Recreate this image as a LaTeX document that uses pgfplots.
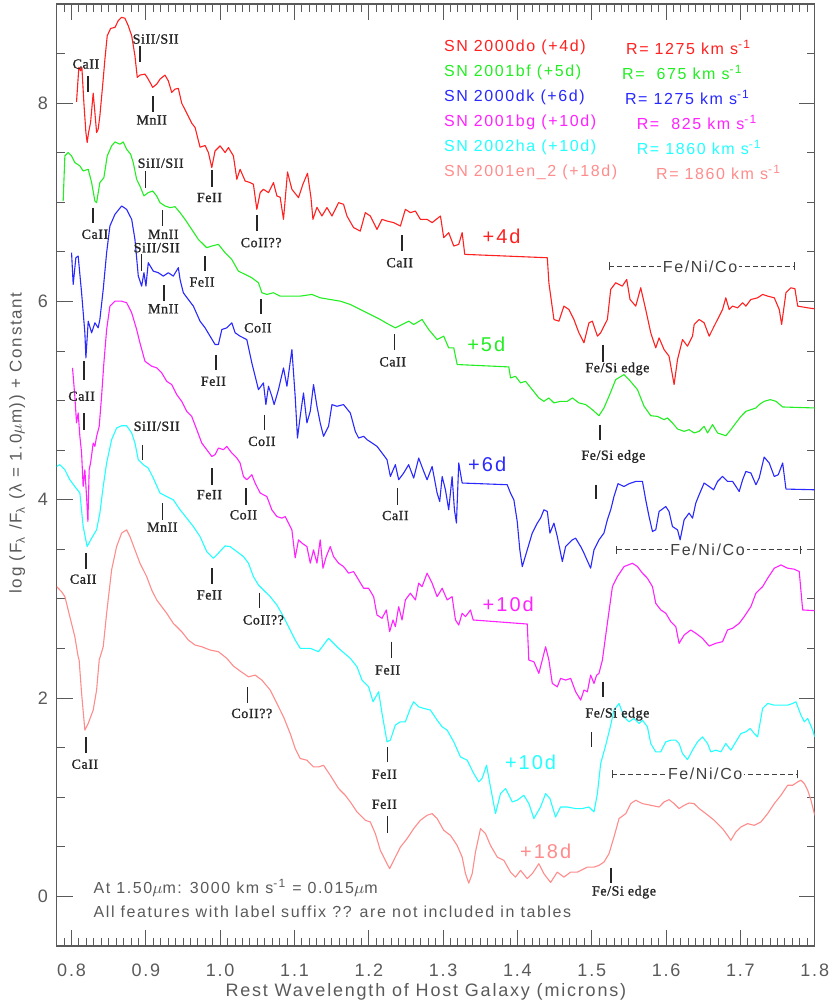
\documentclass[border=0pt]{standalone}
\usepackage{fontspec}
\setmainfont{Liberation Sans}[LetterSpace=10]
\newfontfamily\lblfamily{Liberation Serif}[LetterSpace=4,FakeBold=1.2]
\usepackage{pgfplots}
\pgfplotsset{compat=1.18}
\definecolor{axgray}{HTML}{5A5A5A}
\definecolor{cred}{HTML}{FF2020}
\definecolor{cgreen}{HTML}{22EE22}
\definecolor{cblue}{HTML}{2828FF}
\definecolor{cmag}{HTML}{FF22FF}
\definecolor{ccyan}{HTML}{22FFFF}
\definecolor{csalmon}{HTML}{FF8C8C}
\tikzset{
  spec/.style ={line width=0.55pt,line join=round},
  ftick/.style={line width=0.8pt,black!85},
  flbl/.style ={font=\lblfamily\fontsize{7}{8}\selectfont,text=black!85,inner sep=0pt},
  epoch/.style={font=\fontsize{10}{12}\selectfont,inner sep=0pt},
  leg/.style  ={font=\fontsize{8}{10}\selectfont,anchor=west,inner sep=0pt},
}
% feature mark: x, y top, y bottom
\newcommand{\fmark}[3]{\draw[ftick] (axis cs:#1,#2) -- (axis cs:#1,#3);}
% Fe/Ni/Co bracket: y, x1, x2, xcentre
\newcommand{\fenico}[4]{%
  \draw[black!75,line width=0.5pt,dash pattern=on 2.5pt off 1.5pt] (axis cs:#2,#1) -- (axis cs:#3,#1);
  \draw[black!75,line width=0.5pt] ([yshift=-2pt]axis cs:#2,#1) -- ([yshift=2pt]axis cs:#2,#1);
  \draw[black!75,line width=0.5pt] ([yshift=-2pt]axis cs:#3,#1) -- ([yshift=2pt]axis cs:#3,#1);
  \node[fill=white,inner sep=1pt,font=\fontsize{8}{10}\selectfont,text=black!75] at (axis cs:#4,#1) {Fe/Ni/Co};}

\begin{document}
\begin{tikzpicture}
\path[use as bounding box] (-28.35pt,-30.5pt) rectangle (386.65pt,473pt);
\begin{axis}[
  at={(0,0)}, anchor=south west,
  width=379pt, height=471pt, scale only axis,
  xmin=0.78, xmax=1.8, ymin=-0.5, ymax=9,
  clip mode=individual,
  xtick={0.8,0.9,1.0,1.1,1.2,1.3,1.4,1.5,1.6,1.7,1.8},
  xticklabels={0.8,0.9,1.0,1.1,1.2,1.3,1.4,1.5,1.6,1.7,1.8},
  minor xtick={0.78,0.79,...,1.801},
  ytick={0,2,4,6,8}, yticklabels={0,2,4,6,8},
  minor ytick={-0.5,0,...,9},
  major tick length=8pt, minor tick length=4pt,
  tick align=inside,
  axis line style={axgray,line width=0.6pt},
  tick style={axgray,line width=0.5pt},
  ticklabel style={font=\fontsize{9}{10}\selectfont,text=axgray},
  xticklabel style={anchor=center,yshift=-12pt},
  yticklabel style={anchor=center,xshift=-6.9pt},
  every axis x label/.style={at={(axis description cs:0.487,0)},anchor=center,yshift=-23pt,
    font=\fontsize{9}{10}\selectfont,text=axgray},
  every axis y label/.style={at={(axis description cs:-0.052,0.534)},anchor=center,rotate=90,
    font=\fontsize{8.5}{10}\selectfont,text=axgray},
  xlabel={Rest Wavelength of Host Galaxy (microns)},
  ylabel={log (F\textsubscript{λ} /F\textsubscript{λ} (λ = 1.0$\mu$m)) + Constant},
]
% SN 2000do (+4d)
\addplot[spec,cred] coordinates {
(0.8067,8.013)(0.8098,8.361)(0.8121,8.326)(0.8139,8.361)(0.8166,8.000)(0.8193,7.704)(0.8210,7.603)(0.8229,7.704)
(0.8256,7.805)(0.8291,8.101)(0.8314,7.906)(0.8337,7.704)(0.8358,7.737)(0.8381,7.872)(0.8418,8.175)(0.8449,8.444)
(0.8480,8.680)(0.8526,8.754)(0.8584,8.764)(0.8628,8.831)(0.8674,8.866)(0.8718,8.856)(0.8763,8.781)(0.8809,8.680)
(0.8853,8.478)(0.8884,8.260)(0.8920,8.283)(0.8988,8.293)(0.9032,8.242)(0.9092,8.159)(0.9146,8.192)(0.9190,8.242)
(0.9257,8.283)(0.9302,8.225)(0.9348,8.108)(0.9392,8.141)(0.9437,8.149)(0.9482,8.000)(0.9550,7.899)(0.9617,7.798)
(0.9662,7.755)(0.9729,7.556)(0.9797,7.573)(0.9841,7.502)(0.9887,7.351)(0.9931,7.518)(0.9999,7.569)(1.0066,7.502)
(1.0111,7.552)(1.0178,7.468)(1.0224,7.232)(1.0268,7.333)(1.0336,7.215)(1.0403,7.199)(1.0447,7.182)(1.0493,6.929)
(1.0538,7.098)(1.0582,7.131)(1.0650,7.098)(1.0717,7.199)(1.0763,7.064)(1.0807,7.051)(1.0852,6.828)(1.0906,7.306)
(1.0965,7.131)(1.1054,7.047)(1.1113,7.182)(1.1175,7.293)(1.1221,7.051)(1.1248,6.828)(1.1302,6.949)(1.1369,6.862)
(1.1437,6.947)(1.1504,6.862)(1.1593,6.997)(1.1660,6.980)(1.1706,6.862)(1.1795,6.745)(1.1885,6.710)(1.1953,6.896)
(1.2020,6.862)(1.2110,6.727)(1.2178,6.828)(1.2245,6.811)(1.2334,6.795)(1.2425,6.761)(1.2492,6.929)(1.2559,6.896)
(1.2627,6.912)(1.2694,6.828)(1.2784,6.828)(1.2852,6.795)(1.2964,6.862)(1.3008,6.643)(1.3075,6.694)(1.3143,6.559)
(1.3210,6.576)(1.3256,6.694)(1.3291,6.475)(1.4402,6.441)(1.4423,6.189)(1.4491,5.818)(1.4558,5.801)(1.4625,5.953)
(1.4693,5.919)(1.4760,5.818)(1.4827,5.684)(1.4895,5.583)(1.4962,5.785)(1.5008,5.801)(1.5076,5.650)(1.5120,5.684)
(1.5210,5.818)(1.5255,6.121)(1.5322,6.189)(1.5412,6.155)(1.5470,6.222)(1.5515,6.020)(1.5592,5.953)(1.5659,6.138)
(1.5726,5.919)(1.5794,5.684)(1.5861,5.532)(1.5906,5.633)(1.5973,5.515)(1.6040,5.448)(1.6108,5.162)(1.6154,5.414)
(1.6221,5.616)(1.6288,5.549)(1.6356,5.650)(1.6378,5.768)(1.6445,5.818)(1.6512,5.785)(1.6580,5.650)(1.6647,5.751)
(1.6760,5.919)(1.6804,6.037)(1.6849,5.919)(1.6895,5.953)(1.6962,5.936)(1.7030,5.987)(1.7074,5.953)(1.7141,6.020)
(1.7232,6.037)(1.7299,6.071)(1.7367,6.054)(1.7456,6.037)(1.7523,5.919)(1.7555,5.768)(1.7613,6.088)(1.7680,6.138)
(1.7734,6.128)(1.7771,5.953)(1.7906,5.936)(1.8000,5.926)};
% SN 2001bf (+5d)
\addplot[spec,cgreen] coordinates {
(0.7887,7.013)(0.7910,7.468)(0.7954,7.502)(0.8000,7.468)(0.8044,7.401)(0.8112,7.367)(0.8156,7.316)(0.8224,7.333)
(0.8270,7.199)(0.8314,7.013)(0.8337,6.997)(0.8381,7.199)(0.8435,7.249)(0.8480,7.468)(0.8539,7.569)(0.8584,7.609)
(0.8651,7.586)(0.8695,7.609)(0.8741,7.535)(0.8795,7.485)(0.8830,7.401)(0.8876,7.232)(0.8920,7.165)(0.8974,7.064)
(0.9032,7.098)(0.9092,7.114)(0.9146,7.064)(0.9190,6.997)(0.9257,6.963)(0.9325,6.946)(0.9392,6.956)(0.9460,6.896)
(0.9527,6.828)(0.9617,6.727)(0.9706,6.626)(0.9819,6.542)(0.9887,6.559)(0.9976,6.576)(1.0066,6.492)(1.0156,6.424)
(1.0245,6.306)(1.0336,6.273)(1.0426,6.239)(1.0515,6.189)(1.0561,6.088)(1.0628,6.071)(1.0717,6.088)(1.0807,6.054)
(1.0942,6.054)(1.1077,6.054)(1.1234,6.071)(1.1346,6.037)(1.1481,6.020)(1.1616,6.003)(1.1751,5.970)(1.1885,5.919)
(1.2020,5.869)(1.2155,5.818)(1.2245,5.778)(1.2357,5.734)(1.2448,5.768)(1.2537,5.801)(1.2604,5.768)(1.2717,5.818)
(1.2806,5.717)(1.2919,5.616)(1.3008,5.650)(1.3075,5.532)(1.3143,5.532)(1.3189,5.364)(1.3884,5.340)(1.3907,5.229)
(1.3974,5.245)(1.4042,5.179)(1.4109,5.195)(1.4199,5.111)(1.4288,5.027)(1.4356,4.993)(1.4423,5.027)(1.4491,4.977)
(1.4581,4.993)(1.4671,4.993)(1.4739,5.027)(1.4827,4.977)(1.4918,4.960)(1.5008,4.909)(1.5097,4.848)(1.5164,4.926)
(1.5232,5.044)(1.5322,5.212)(1.5434,5.263)(1.5501,5.212)(1.5615,5.111)(1.5704,4.943)(1.5794,4.848)(1.5884,4.841)
(1.5973,4.808)(1.6019,4.825)(1.6086,4.775)(1.6154,4.714)(1.6242,4.690)(1.6310,4.707)(1.6377,4.674)(1.6445,4.690)
(1.6512,4.741)(1.6558,4.674)(1.6625,4.758)(1.6693,4.674)(1.6805,4.646)(1.6872,4.707)(1.6939,4.775)(1.7007,4.841)
(1.7074,4.892)(1.7141,4.909)(1.7209,4.926)(1.7253,4.960)(1.7320,4.993)(1.7402,5.010)(1.7479,4.993)(1.7569,4.936)
(1.8000,4.926)};
% SN 2000dk (+6d)
\addplot[spec,cblue] coordinates {
(0.8000,6.492)(0.8022,6.172)(0.8058,6.441)(0.8089,6.458)(0.8135,6.088)(0.8179,5.684)(0.8193,5.431)(0.8224,5.801)
(0.8270,5.684)(0.8314,5.785)(0.8358,5.734)(0.8381,5.818)(0.8426,6.121)(0.8472,6.492)(0.8516,6.761)(0.8584,6.879)
(0.8674,6.963)(0.8741,6.929)(0.8809,6.828)(0.8853,6.626)(0.8898,6.256)(0.8943,6.155)(0.8974,6.290)(0.9001,6.155)
(0.9032,6.391)(0.9100,6.306)(0.9167,6.290)(0.9234,6.256)(0.9302,6.290)(0.9369,6.256)(0.9437,6.341)(0.9460,6.222)
(0.9504,6.088)(0.9571,6.020)(0.9639,5.953)(0.9729,5.801)(0.9797,5.734)(0.9864,5.650)(0.9931,5.566)(0.9976,5.566)
(1.0022,5.717)(1.0089,5.734)(1.0156,5.785)(1.0201,5.684)(1.0268,5.650)(1.0358,5.616)(1.0426,5.380)(1.0515,5.111)
(1.0582,5.179)(1.0615,4.960)(1.0650,5.145)(1.0695,5.044)(1.0726,4.960)(1.0784,5.111)(1.0852,5.330)(1.0898,5.145)
(1.0965,5.515)(1.1009,5.044)(1.1040,4.623)(1.1077,4.842)(1.1121,5.078)(1.1167,4.775)(1.1212,4.892)(1.1256,5.162)
(1.1302,4.943)(1.1346,4.775)(1.1391,4.640)(1.1458,4.741)(1.1504,4.960)(1.1571,4.943)(1.1660,4.960)(1.1751,4.876)
(1.1818,4.690)(1.1863,4.623)(1.1930,4.640)(1.1976,4.606)(1.2043,4.573)(1.2110,4.539)(1.2178,4.472)(1.2245,4.404)
(1.2290,4.235)(1.2357,4.354)(1.2402,4.202)(1.2469,4.270)(1.2536,4.354)(1.2604,4.219)(1.2671,4.421)(1.2739,4.286)
(1.2784,4.202)(1.2852,4.336)(1.2919,4.068)(1.2954,3.983)(1.2987,4.235)(1.3031,4.101)(1.3075,3.899)(1.3121,4.235)
(1.3152,3.899)(1.3179,3.765)(1.3210,4.371)(1.3256,4.169)(1.3862,4.152)(1.3907,4.067)(1.3952,4.000)(1.3997,3.781)
(1.4032,3.495)(1.4065,3.326)(1.4132,3.495)(1.4199,3.664)(1.4267,3.765)(1.4311,3.815)(1.4356,3.899)(1.4402,3.882)
(1.4437,3.664)(1.4491,3.765)(1.4536,3.629)(1.4604,3.377)(1.4648,3.528)(1.4739,3.596)(1.4783,3.613)(1.4851,3.528)
(1.4895,3.462)(1.4985,3.310)(1.5030,3.495)(1.5097,3.596)(1.5164,3.664)(1.5210,3.798)(1.5255,3.899)(1.5299,4.033)
(1.5353,4.162)(1.5434,4.134)(1.5501,4.162)(1.5592,4.185)(1.5682,4.185)(1.5726,4.000)(1.5771,3.831)(1.5817,3.680)
(1.5861,3.697)(1.5906,3.882)(1.5996,3.932)(1.6040,3.882)(1.6086,3.730)(1.6154,3.697)(1.6189,3.596)(1.6243,3.798)
(1.6310,3.866)(1.6356,3.815)(1.6400,3.967)(1.6445,4.051)(1.6512,4.169)(1.6580,4.134)(1.6639,4.101)(1.6693,4.185)
(1.6760,4.236)(1.6827,4.185)(1.6895,4.185)(1.6984,4.084)(1.7030,4.202)(1.7074,4.286)(1.7141,4.270)(1.7209,4.152)
(1.7253,4.219)(1.7320,4.431)(1.7388,4.371)(1.7456,4.235)(1.7510,4.253)(1.7569,4.371)(1.7613,4.108)(1.8000,4.101)};
% SN 2001bg (+10d)
\addplot[spec,cmag] coordinates {
(0.8013,5.330)(0.8044,5.044)(0.8067,4.775)(0.8089,4.876)(0.8112,4.639)(0.8135,4.472)(0.8156,4.134)(0.8179,4.303)
(0.8202,4.033)(0.8220,3.781)(0.8237,4.303)(0.8256,4.371)(0.8274,4.472)(0.8291,4.573)(0.8314,4.539)(0.8337,4.639)
(0.8372,4.740)(0.8404,5.044)(0.8435,5.381)(0.8472,5.717)(0.8516,5.953)(0.8584,6.003)(0.8674,6.003)(0.8741,5.987)
(0.8809,5.886)(0.8876,5.717)(0.8920,5.583)(0.8988,5.397)(0.9078,5.347)(0.9146,5.330)(0.9213,5.280)(0.9280,5.195)
(0.9348,5.162)(0.9415,5.061)(0.9482,4.993)(0.9550,4.892)(0.9617,4.841)(0.9685,4.707)(0.9752,4.573)(0.9819,4.505)
(0.9887,4.437)(0.9931,4.455)(0.9976,4.522)(1.0043,4.505)(1.0089,4.539)(1.0156,4.472)(1.0224,4.421)(1.0268,4.371)
(1.0313,4.235)(1.0358,4.202)(1.0426,4.253)(1.0470,4.169)(1.0538,4.068)(1.0628,4.033)(1.0695,3.899)(1.0763,3.831)
(1.0830,3.815)(1.0875,3.831)(1.0919,3.765)(1.0965,3.697)(1.1009,3.414)(1.1054,3.596)(1.1100,3.563)(1.1167,3.528)
(1.1212,3.361)(1.1256,3.495)(1.1302,3.361)(1.1346,3.596)(1.1383,3.310)(1.1427,3.427)(1.1481,3.528)(1.1526,3.427)
(1.1593,3.361)(1.1660,3.326)(1.1728,3.260)(1.1795,3.276)(1.1863,3.192)(1.1930,3.108)(1.1997,3.108)(1.2065,3.023)
(1.2110,2.838)(1.2178,2.805)(1.2236,2.889)(1.2280,2.670)(1.2326,2.788)(1.2357,2.720)(1.2402,2.922)(1.2447,2.788)
(1.2492,2.990)(1.2559,3.058)(1.2627,2.990)(1.2671,3.159)(1.2717,3.124)(1.2784,3.260)(1.2852,3.159)(1.2919,3.023)
(1.2987,3.108)(1.3054,2.990)(1.3121,3.023)(1.3166,2.788)(1.3210,2.737)(1.3256,2.856)(1.3301,2.822)(1.3368,2.889)
(1.3404,2.788)(1.4132,2.747)(1.4153,2.384)(1.4221,2.367)(1.4288,2.249)(1.4334,2.384)(1.4379,2.518)(1.4423,2.384)
(1.4469,2.148)(1.4536,2.114)(1.4581,2.199)(1.4648,2.182)(1.4716,2.199)(1.4783,2.064)(1.4851,1.980)(1.4895,2.081)
(1.4941,2.064)(1.4985,2.232)(1.5030,2.148)(1.5066,2.232)(1.5097,2.249)(1.5143,2.384)(1.5210,2.755)(1.5278,3.124)
(1.5345,3.225)(1.5434,3.326)(1.5547,3.360)(1.5615,3.326)(1.5682,3.260)(1.5749,3.209)(1.5817,3.124)(1.5861,2.956)
(1.5929,2.889)(1.5996,2.856)(1.6064,2.771)(1.6131,2.720)(1.6175,2.552)(1.6243,2.636)(1.6332,2.687)(1.6400,2.654)
(1.6490,2.603)(1.6579,2.525)(1.6670,2.553)(1.6760,2.569)(1.6827,2.687)(1.6895,2.704)(1.6984,2.754)(1.7051,2.821)
(1.7141,2.922)(1.7209,3.058)(1.7299,3.124)(1.7367,3.209)(1.7456,3.310)(1.7546,3.343)(1.7636,3.310)(1.7725,3.300)
(1.7792,3.276)(1.7838,2.889)(1.8000,2.882)};
% SN 2002ha (+10d)
\addplot[spec,ccyan] coordinates {
(0.7800,4.336)(0.7842,4.354)(0.7910,4.303)(0.7977,4.202)(0.8044,4.134)(0.8112,4.068)(0.8156,3.730)(0.8210,3.528)
(0.8270,3.613)(0.8337,3.697)(0.8381,3.866)(0.8426,4.134)(0.8472,4.371)(0.8539,4.606)(0.8606,4.724)(0.8674,4.747)
(0.8741,4.747)(0.8809,4.674)(0.8853,4.573)(0.8898,4.404)(0.8965,4.354)(0.9032,4.320)(0.9100,4.219)(0.9190,4.068)
(0.9280,4.033)(0.9369,4.000)(0.9460,3.899)(0.9550,3.815)(0.9639,3.730)(0.9729,3.629)(0.9819,3.478)(0.9908,3.411)
(0.9976,3.462)(1.0066,3.535)(1.0133,3.528)(1.0224,3.478)(1.0313,3.427)(1.0380,3.361)(1.0447,3.225)(1.0515,3.141)
(1.0582,3.091)(1.0673,3.023)(1.0763,2.939)(1.0852,2.821)(1.0942,2.687)(1.1009,2.586)(1.1077,2.502)(1.1212,2.502)
(1.1323,2.468)(1.1458,2.603)(1.1593,2.502)(1.1751,2.401)(1.1841,2.316)(1.1908,2.182)(1.1997,2.114)(1.2057,1.963)
(1.2132,2.064)(1.2178,1.845)(1.2245,1.559)(1.2290,1.576)(1.2357,1.727)(1.2425,1.761)(1.2492,1.761)(1.2559,1.896)
(1.2604,1.963)(1.2671,1.912)(1.2739,1.896)(1.2829,1.879)(1.2919,1.778)(1.2987,1.710)(1.3054,1.677)(1.3143,1.559)
(1.3233,1.407)(1.3323,1.374)(1.3412,1.239)(1.3480,1.155)(1.3526,1.192)(1.3584,1.323)(1.3637,1.104)(1.3705,0.835)
(1.3772,1.037)(1.3840,1.088)(1.3930,0.953)(1.3997,0.970)(1.4086,1.020)(1.4154,0.936)(1.4221,0.785)(1.4311,0.902)
(1.4379,1.037)(1.4437,0.987)(1.4513,0.801)(1.4581,0.902)(1.4671,0.902)(1.4783,0.886)(1.4873,0.886)(1.4962,0.902)
(1.5030,0.852)(1.5076,1.037)(1.5120,1.340)(1.5188,1.525)(1.5255,1.727)(1.5299,1.879)(1.5367,1.946)(1.5434,1.811)
(1.5501,1.761)(1.5569,1.795)(1.5636,1.744)(1.5682,1.778)(1.5749,1.710)(1.5794,1.542)(1.5861,1.458)(1.5929,1.458)
(1.5996,1.559)(1.6064,1.576)(1.6131,1.576)(1.6175,1.542)(1.6221,1.441)(1.6288,1.380)(1.6356,1.475)(1.6423,1.559)
(1.6490,1.609)(1.6558,1.542)(1.6602,1.458)(1.6670,1.475)(1.6737,1.458)(1.6804,1.542)(1.6872,1.475)(1.6939,1.559)
(1.7007,1.643)(1.7074,1.660)(1.7132,1.694)(1.7186,1.643)(1.7232,1.609)(1.7299,1.896)(1.7367,1.946)(1.7456,1.929)
(1.7546,1.929)(1.7636,1.929)(1.7703,1.946)(1.7747,1.963)(1.7815,1.828)(1.7860,1.761)(1.7906,1.795)(1.7973,1.677)
(1.8000,1.609)};
% SN 2001en_2 (+18d)
\addplot[spec,csalmon] coordinates {
(0.7800,3.124)(0.7865,3.074)(0.7910,3.023)(0.7977,2.821)(0.8044,2.619)(0.8089,2.417)(0.8102,2.384)(0.8135,2.048)
(0.8179,1.677)(0.8224,1.745)(0.8291,1.879)(0.8337,2.081)(0.8372,2.384)(0.8426,2.518)(0.8472,2.856)(0.8539,3.293)
(0.8606,3.528)(0.8674,3.664)(0.8741,3.697)(0.8786,3.629)(0.8853,3.495)(0.8920,3.361)(0.9011,3.225)(0.9078,3.091)
(0.9146,2.990)(0.9213,2.922)(0.9280,2.856)(0.9369,2.754)(0.9482,2.670)(0.9571,2.586)(0.9662,2.535)(0.9752,2.518)
(0.9864,2.485)(0.9976,2.468)(1.0089,2.401)(1.0178,2.323)(1.0268,2.273)(1.0380,2.215)(1.0470,2.232)(1.0561,2.182)
(1.0673,2.081)(1.0763,1.946)(1.0852,1.811)(1.0942,1.643)(1.1009,1.492)(1.1077,1.391)(1.1167,1.374)(1.1256,1.306)
(1.1323,1.306)(1.1391,1.323)(1.1481,1.222)(1.1593,1.088)(1.1683,1.020)(1.1751,0.953)(1.1841,0.852)(1.1953,0.768)
(1.2020,0.751)(1.2088,0.633)(1.2155,0.465)(1.2222,0.364)(1.2280,0.280)(1.2357,0.397)(1.2425,0.498)(1.2515,0.583)
(1.2604,0.684)(1.2694,0.768)(1.2784,0.818)(1.2852,0.835)(1.2919,0.785)(1.3008,0.667)(1.3098,0.616)(1.3188,0.515)
(1.3256,0.397)(1.3301,0.229)(1.3345,0.134)(1.3391,0.229)(1.3435,0.447)(1.3503,0.684)(1.3570,0.633)(1.3637,0.515)
(1.3728,0.397)(1.3817,0.364)(1.3907,0.245)(1.3974,0.195)(1.4042,0.263)(1.4132,0.179)(1.4199,0.229)(1.4288,0.330)
(1.4356,0.229)(1.4446,0.141)(1.4536,0.245)(1.4625,0.195)(1.4716,0.245)(1.4806,0.245)(1.4941,0.296)(1.5030,0.296)
(1.5097,0.313)(1.5164,0.346)(1.5232,0.431)(1.5299,0.599)(1.5367,0.785)(1.5457,0.835)(1.5524,0.936)(1.5592,0.970)
(1.5682,0.936)(1.5794,0.919)(1.5906,0.902)(1.5973,0.953)(1.6040,0.976)(1.6108,0.936)(1.6175,0.886)(1.6243,0.919)
(1.6310,0.942)(1.6377,0.936)(1.6445,0.886)(1.6535,0.835)(1.6647,0.768)(1.6760,0.684)(1.6827,0.616)(1.6872,0.566)
(1.6939,0.650)(1.7007,0.700)(1.7097,0.734)(1.7186,0.717)(1.7276,0.751)(1.7367,0.835)(1.7456,0.936)(1.7546,1.020)
(1.7636,1.121)(1.7703,1.121)(1.7771,1.155)(1.7815,1.172)(1.7860,1.138)(1.7906,1.071)(1.7950,0.970)(1.8000,0.818)};

% legend block
\node[leg,text=cred]    at (axis cs:1.3008,8.563) {SN 2000do (+4d)};
\node[leg,text=cgreen]  at (axis cs:1.3008,8.310) {SN 2001bf (+5d)};
\node[leg,text=cblue]   at (axis cs:1.3008,8.057) {SN 2000dk (+6d)};
\node[leg,text=cmag]    at (axis cs:1.3008,7.805) {SN 2001bg (+10d)};
\node[leg,text=ccyan]   at (axis cs:1.3008,7.553) {SN 2002ha (+10d)};
\node[leg,text=csalmon] at (axis cs:1.3008,7.300) {SN 2001en\_2 (+18d)};
\node[leg,text=cred]    at (axis cs:1.5457,8.563) {R= 1275 km s\textsuperscript{-1}};
\node[leg,text=cgreen]  at (axis cs:1.5403,8.310) {R=~~675 km s\textsuperscript{-1}};
\node[leg,text=cblue]   at (axis cs:1.5443,8.057) {R= 1275 km s\textsuperscript{-1}};
\node[leg,text=cmag]    at (axis cs:1.5601,7.805) {R=~~825 km s\textsuperscript{-1}};
\node[leg,text=ccyan]   at (axis cs:1.5601,7.553) {R= 1860 km s\textsuperscript{-1}};
\node[leg,text=csalmon] at (axis cs:1.5861,7.300) {R= 1860 km s\textsuperscript{-1}};

% epochs
\node[epoch,text=cred]    at (axis cs:1.3786,6.654) {+4d};
\node[epoch,text=cgreen]  at (axis cs:1.3580,5.566) {+5d};
\node[epoch,text=cblue]   at (axis cs:1.3593,4.354) {+6d};
\node[epoch,text=cmag]    at (axis cs:1.3876,2.949) {+10d};
\node[epoch,text=ccyan]   at (axis cs:1.4176,1.357) {+10d};
\node[epoch,text=csalmon] at (axis cs:1.4379,0.458) {+18d};

% feature marks, SN 2000do
\fmark{0.8224}{8.273}{8.111} \node[flbl] at (axis cs:0.8193,8.394) {CaII};
\fmark{0.8920}{8.579}{8.411} \node[flbl] at (axis cs:0.9132,8.646) {SiII/SII};
\fmark{0.9092}{8.074}{7.906} \node[flbl] at (axis cs:0.9078,7.831) {MnII};
\fmark{0.9891}{7.326}{7.159} \node[flbl] at (axis cs:0.9855,7.048) {FeII};
\fmark{1.0493}{6.869}{6.710} \node[flbl] at (axis cs:1.0551,6.593) {CoII??};
\fmark{1.2447}{6.667}{6.508} \node[flbl] at (axis cs:1.2415,6.391) {CaII};
\fmark{1.5151}{5.566}{5.394} \node[flbl] at (axis cs:1.5345,5.320) {Fe/Si edge};
\fenico{6.354}{1.5232}{1.7725}{1.6458}
% SN 2001bf
\fmark{0.8997}{7.316}{7.148} \node[flbl] at (axis cs:0.9199,7.394) {SiII/SII};
\fmark{0.8291}{6.946}{6.788} \node[flbl] at (axis cs:0.8314,6.677) {CaII};
\fmark{0.9226}{6.922}{6.761} \node[flbl] at (axis cs:0.9235,6.677) {MnII};
\fmark{0.9797}{6.458}{6.306} \node[flbl] at (axis cs:0.9756,6.195) {FeII};
\fmark{1.0551}{6.020}{5.869} \node[flbl] at (axis cs:1.0507,5.734) {CoII};
\fmark{1.2348}{5.667}{5.515} \node[flbl] at (axis cs:1.2321,5.391) {CaII};
\fmark{1.5107}{4.758}{4.606} \node[flbl] at (axis cs:1.5291,4.437) {Fe/Si edge};
% SN 2000dk
\fmark{0.8943}{6.475}{6.306} \node[flbl] at (axis cs:0.9146,6.542) {SiII/SII};
\fmark{0.9244}{6.162}{6.003} \node[flbl] at (axis cs:0.9235,5.926) {MnII};
\fmark{0.8170}{5.397}{5.212} \node[flbl] at (axis cs:0.8135,5.044) {CaII};
\fmark{0.9945}{5.465}{5.313} \node[flbl] at (axis cs:0.9908,5.195) {FeII};
\fmark{1.0596}{4.859}{4.707} \node[flbl] at (axis cs:1.0561,4.589) {CoII};
\fmark{1.2388}{4.118}{3.949} \node[flbl] at (axis cs:1.2357,3.841) {CaII};
\fmark{1.5053}{4.152}{4.007}
\fenico{3.495}{1.5336}{1.7815}{1.6558}
% SN 2001bg
\fmark{0.8170}{4.876}{4.707}
\fmark{0.9891}{4.320}{4.152} \node[flbl] at (axis cs:0.9855,4.051) {FeII};
\fmark{1.0349}{4.118}{3.949} \node[flbl] at (axis cs:1.0313,3.848) {CoII};
\fmark{1.2303}{2.569}{2.401} \node[flbl] at (axis cs:1.2253,2.283) {FeII};
\fmark{1.5151}{2.165}{2.007} \node[flbl] at (axis cs:1.5345,1.838) {Fe/Si edge};
% SN 2002ha
\fmark{0.8957}{4.556}{4.404} \node[flbl] at (axis cs:0.9146,4.741) {SiII/SII};
\fmark{0.9226}{3.967}{3.798} \node[flbl] at (axis cs:0.9221,3.724) {MnII};
\fmark{0.8193}{3.468}{3.300} \node[flbl] at (axis cs:0.8156,3.199) {CaII};
\fmark{0.9891}{3.310}{3.152} \node[flbl] at (axis cs:0.9855,3.040) {FeII};
\fmark{1.0528}{3.064}{2.906} \node[flbl] at (axis cs:1.0582,2.788) {CoII??};
\fmark{1.2253}{1.508}{1.357} \node[flbl] at (axis cs:1.2209,1.232) {FeII};
\fmark{1.4999}{1.660}{1.502}
\fenico{1.232}{1.5278}{1.7771}{1.6526}
% SN 2001en_2
\fmark{0.8193}{1.609}{1.447} \node[flbl] at (axis cs:0.8179,1.333) {CaII};
\fmark{1.0367}{2.108}{1.946} \node[flbl] at (axis cs:1.0426,1.845) {CoII??};
\fmark{1.2253}{0.808}{0.639} \node[flbl] at (axis cs:1.2209,0.929) {FeII};
\fmark{1.5255}{0.290}{0.134} \node[flbl] at (axis cs:1.5434,0.043) {Fe/Si edge};

% notes
\node[leg,text=axgray] at (axis cs:0.8291,0.088) {At 1.50$\mu$m: 3000 km s\textsuperscript{-1} = 0.015$\mu$m};
\node[leg,text=axgray] at (axis cs:0.8291,-0.159) {All features with label suffix ?? are not included in tables};
\end{axis}
\end{tikzpicture}
\end{document}
